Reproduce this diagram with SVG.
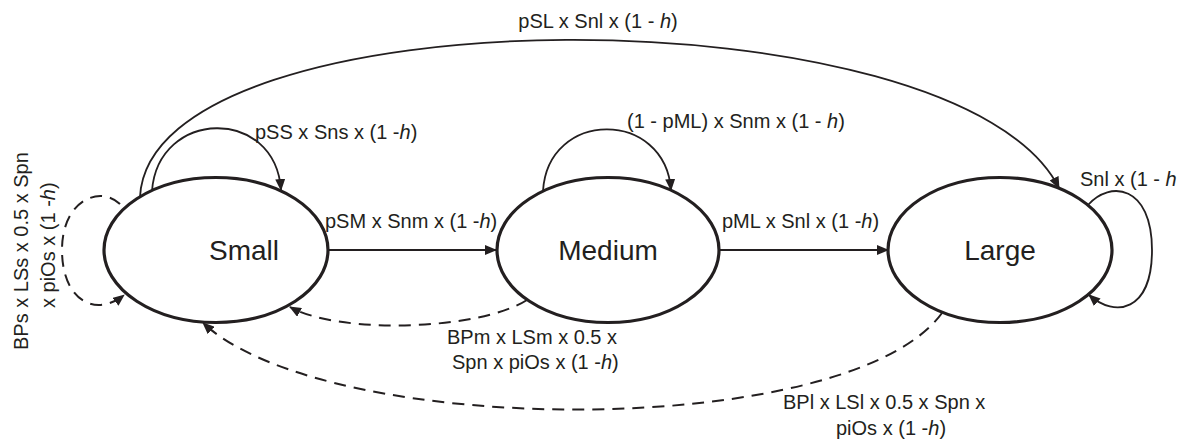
<svg xmlns="http://www.w3.org/2000/svg" width="1190" height="439" viewBox="0 0 1190 439">
<style>
.node{fill:#fff;stroke:#231f20;stroke-width:3.2}
.nl{font-family:"Liberation Sans",Arial,sans-serif;font-size:28px;fill:#231f20;text-anchor:middle}
.lb{font-family:"Liberation Sans",Arial,sans-serif;font-size:20px;fill:#231f20}
.c{fill:none;stroke:#231f20;stroke-width:1.8}
.d{fill:none;stroke:#231f20;stroke-width:2;stroke-dasharray:12 8}
.i{font-style:italic}
</style>
<defs>
<marker id="ah" markerUnits="userSpaceOnUse" markerWidth="12" markerHeight="10" refX="11" refY="5" orient="auto">
<path d="M0,0 L12,5 L0,10 z" fill="#231f20"/>
</marker>
</defs>
<g id="connectors">
<path class="c" d="M328,250 L496,250" marker-end="url(#ah)"/>
<path class="c" d="M719,250 L888,250" marker-end="url(#ah)"/>
<path class="c" d="M152,191 C158,109 275,106 281,190" marker-end="url(#ah)"/>
<path class="c" d="M543,191 C548,109 665,109 671,190" marker-end="url(#ah)"/>
<path class="c" d="M1088,205 C1110,180 1152,185 1152,250 C1152,312 1115,318 1089,295" marker-end="url(#ah)"/>
<path class="c" d="M140,197 C150,-11 960,-11 1059,188" marker-end="url(#ah)"/>
<path class="d" d="M120,204 C100,185 62,200 62,250 C62,300 95,318 124,295" marker-end="url(#ah)"/>
<path class="d" d="M527,300 C480,330 340,335 290,307" marker-end="url(#ah)"/>
<path class="d" d="M942,313 C850,440 330,440 203,323" marker-end="url(#ah)"/>
</g>
<g id="small"><ellipse class="node" cx="216" cy="250" rx="112" ry="72.5"/><text class="nl" x="244" y="260">Small</text></g>
<g id="medium"><ellipse class="node" cx="608" cy="250" rx="111" ry="72.5"/><text class="nl" x="608" y="260">Medium</text></g>
<g id="large"><ellipse class="node" cx="1000" cy="250" rx="112" ry="72.5"/><text class="nl" x="1000" y="260">Large</text></g>
<g id="labels">
<text class="lb" x="598" y="28" text-anchor="middle">pSL x Snl x (1 - <tspan class="i">h</tspan>)</text>
<text class="lb" x="255" y="139">pSS x Sns x (1 -<tspan class="i">h</tspan>)</text>
<text class="lb" x="627" y="128">(1 - pML) x Snm x (1 - <tspan class="i">h</tspan>)</text>
<text class="lb" x="325" y="228">pSM x Snm x (1 -<tspan class="i">h</tspan>)</text>
<text class="lb" x="722" y="228">pML x Snl x (1 -<tspan class="i">h</tspan>)</text>
<text class="lb" x="1080" y="186">Snl x (1 - <tspan class="i">h</tspan></text>
<text class="lb" transform="translate(28,350) rotate(-90)">BPs x LSs x 0.5 x Spn</text>
<text class="lb" transform="translate(55,308) rotate(-90)">x piOs x (1 -<tspan class="i">h</tspan>)</text>
<text class="lb" x="447" y="344">BPm x LSm x 0.5 x</text>
<text class="lb" x="452" y="369">Spn x piOs x (1 -<tspan class="i">h</tspan>)</text>
<text class="lb" x="783" y="409">BPl x LSl x 0.5 x Spn x</text>
<text class="lb" x="836" y="435">piOs x (1 -<tspan class="i">h</tspan>)</text>
</g>
</svg>
